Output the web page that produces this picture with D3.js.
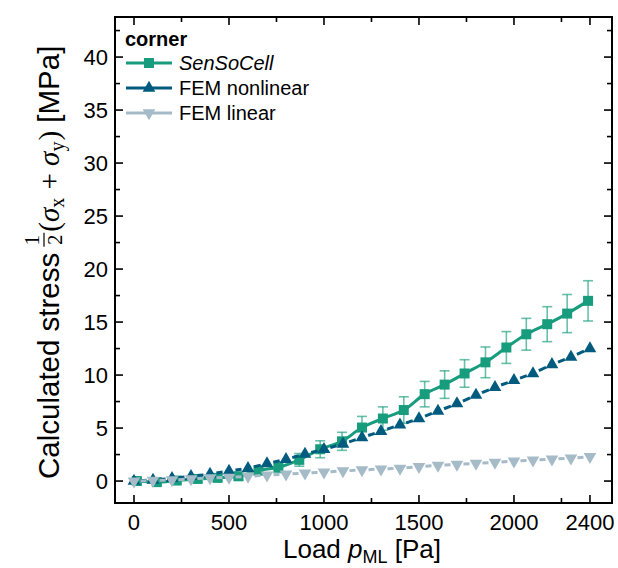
<!DOCTYPE html>
<html>
<head>
<meta charset="utf-8">
<script src="https://cdn.jsdelivr.net/npm/d3@7"></script>
<style>
	body { margin: 0; background: #fff; }
	text { font-family: "Liberation Sans", Arial, sans-serif; fill: #000; white-space: pre; }
	.math { font-family: "Liberation Serif", "DejaVu Serif", serif; }
</style>
</head>
<body>
<div id="wrapper"></div>
<script>
var width = 618;
var height = 568;

// FEM results, every 100 Pa
var loadFEM = [0, 100, 200, 300, 400, 500, 600, 700, 800, 900, 1000, 1100, 1200,
	1300, 1400, 1500, 1600, 1700, 1800, 1900, 2000, 2100, 2200, 2300, 2400];
var femNonlinear = [0, 0.1, 0.25, 0.45, 0.65, 0.95, 1.2, 1.65, 2.05, 2.55, 3.0, 3.5, 4.1,
	4.7, 5.3, 5.9, 6.6, 7.3, 8.1, 8.85, 9.5, 10.15, 11.0, 11.7, 12.5];
var femLinear = [0, 0.05, 0.1, 0.2, 0.3, 0.35, 0.45, 0.55, 0.65, 0.75, 0.85, 0.95, 1.05,
	1.13, 1.2, 1.35, 1.48, 1.57, 1.67, 1.76, 1.88, 1.98, 2.07, 2.15, 2.3];

// SenSoCell measurement
var loadSensor = [15, 120, 225, 335, 440, 550, 655, 760, 870, 980, 1095, 1200,
	1310, 1420, 1530, 1635, 1740, 1850, 1960, 2065, 2175, 2280, 2390];
var sensor = [0.0, -0.1, 0.05, 0.2, 0.3, 0.45, 1.0, 1.3, 2.0, 3.0, 3.75, 5.05,
	5.9, 6.7, 8.2, 9.1, 10.15, 11.2, 12.6, 13.85, 14.8, 15.8, 17.0];
var sensorErr = [0.25, 0.25, 0.25, 0.3, 0.3, 0.35, 0.4, 0.5, 0.6, 0.8, 0.85, 1.05,
	1.1, 1.25, 1.2, 1.3, 1.3, 1.45, 1.5, 1.5, 1.65, 1.8, 1.9];

var xMajor = [0, 500, 1000, 1500, 2000, 2400];
var xMinor = [250, 750, 1250, 1750, 2250];
var yMajor = [0, 5, 10, 15, 20, 25, 30, 35, 40];
var yMinor = [2.5, 7.5, 12.5, 17.5, 22.5, 27.5, 32.5, 37.5, 42.5];

var legendTitle = "corner";
var seriesNames = ["SenSoCell", "FEM nonlinear", "FEM linear"];
var colors = ["#179c7d", "#005b7f", "#a6bbc8"];

var plot = {left: 115, right: 612, top: 17, bottom: 503};

var x = d3.scaleLinear().domain([-100, 2516]).range([plot.left, plot.right]);
var y = d3.scaleLinear().domain([-2.07, 43.78]).range([plot.bottom, plot.top]);

var svg = d3.select("#wrapper").append("svg")
	.attr("width", width)
	.attr("height", height);

// ticks on all four sides, pointing inward
function drawTicks(){
	var g = svg.append("g").attr("class", "ticks")
		.attr("stroke", "#000").attr("stroke-width", 1.6);
	[[xMajor, 8], [xMinor, 5]].forEach(function(t){
		t[0].forEach(function(v){
			g.append("line").attr("x1", x(v)).attr("x2", x(v))
				.attr("y1", plot.bottom).attr("y2", plot.bottom - t[1]);
			g.append("line").attr("x1", x(v)).attr("x2", x(v))
				.attr("y1", plot.top).attr("y2", plot.top + t[1]);
		});
	});
	[[yMajor, 8], [yMinor, 5]].forEach(function(t){
		t[0].forEach(function(v){
			g.append("line").attr("y1", y(v)).attr("y2", y(v))
				.attr("x1", plot.left).attr("x2", plot.left + t[1]);
			g.append("line").attr("y1", y(v)).attr("y2", y(v))
				.attr("x1", plot.right).attr("x2", plot.right - t[1]);
		});
	});

	svg.append("g").selectAll("text").data(xMajor).enter().append("text")
		.attr("x", function(d){ return x(d); })
		.attr("y", 530)
		.attr("text-anchor", "middle")
		.attr("font-size", 22)
		.text(function(d){ return d; });

	svg.append("g").selectAll("text").data(yMajor).enter().append("text")
		.attr("x", plot.left - 7)
		.attr("y", function(d){ return y(d) + 8; })
		.attr("text-anchor", "end")
		.attr("font-size", 22)
		.text(function(d){ return d; });

	svg.append("rect")
		.attr("x", plot.left).attr("y", plot.top)
		.attr("width", plot.right - plot.left).attr("height", plot.bottom - plot.top)
		.attr("fill", "none").attr("stroke", "#000").attr("stroke-width", 2);
}

function marker(type){
	if (type == "square") return d3.symbol().type(d3.symbolSquare).size(100)();
	return d3.symbol().type(d3.symbolTriangle).size(70)();
}

// Origin style: line broken around the symbols
function gappedLine(xs, ys, color, gap){
	var g = svg.append("g");
	for (var i = 0; i < xs.length - 1; i++){
		var x1 = x(xs[i]), y1 = y(ys[i]), x2 = x(xs[i + 1]), y2 = y(ys[i + 1]);
		var len = Math.sqrt((x2 - x1) * (x2 - x1) + (y2 - y1) * (y2 - y1));
		if (len <= 2 * gap) continue;
		var ux = (x2 - x1) / len, uy = (y2 - y1) / len;
		g.append("line")
			.attr("x1", x1 + ux * gap).attr("y1", y1 + uy * gap)
			.attr("x2", x2 - ux * gap).attr("y2", y2 - uy * gap)
			.attr("stroke", color).attr("stroke-width", 3);
	}
	return g;
}

function drawSensor(){
	var pts = loadSensor.map(function(d, i){ return [d, sensor[i], sensorErr[i]]; });
	var eb = svg.append("g").attr("stroke", colors[0]).attr("stroke-opacity", 0.65)
		.attr("stroke-width", 1.6);
	pts.forEach(function(p){
		var cx = x(p[0]);
		eb.append("line").attr("x1", cx).attr("x2", cx)
			.attr("y1", y(p[1] - p[2])).attr("y2", y(p[1] + p[2]));
		eb.append("line").attr("x1", cx - 5).attr("x2", cx + 5)
			.attr("y1", y(p[1] - p[2])).attr("y2", y(p[1] - p[2]));
		eb.append("line").attr("x1", cx - 5).attr("x2", cx + 5)
			.attr("y1", y(p[1] + p[2])).attr("y2", y(p[1] + p[2]));
	});
	var line = d3.line()
		.x(function(d){ return x(d[0]); })
		.y(function(d){ return y(d[1]); })
		.curve(d3.curveCatmullRom.alpha(0.5));
	svg.append("path").attr("d", line(pts))
		.attr("fill", "none").attr("stroke", colors[0]).attr("stroke-width", 3);
	svg.append("g").selectAll("path").data(pts).enter().append("path")
		.attr("d", marker("square"))
		.attr("transform", function(d){ return "translate(" + x(d[0]) + "," + y(d[1]) + ")"; })
		.attr("fill", colors[0]);
}

function drawFEM(vals, color, down){
	gappedLine(loadFEM, vals, color, 6.5);
	svg.append("g").selectAll("path").data(vals).enter().append("path")
		.attr("d", marker("triangle"))
		.attr("transform", function(d, i){
			return "translate(" + x(loadFEM[i]) + "," + y(d) + ")" + (down ? " rotate(180)" : "");
		})
		.attr("fill", color);
}

function drawLegend(){
	var lg = svg.append("g").attr("transform", "translate(125,0)");
	lg.append("text").attr("x", 0).attr("y", 46)
		.attr("font-size", 20).attr("font-weight", "bold").text(legendTitle);
	seriesNames.forEach(function(name, i){
		var yy = 63 + i * 25;
		lg.append("line").attr("x1", 1).attr("x2", 47).attr("y1", yy).attr("y2", yy)
			.attr("stroke", colors[i]).attr("stroke-width", 3);
		lg.append("path")
			.attr("d", marker(i == 0 ? "square" : "triangle"))
			.attr("transform", "translate(24," + yy + ")" + (i == 2 ? " rotate(180)" : ""))
			.attr("fill", colors[i]);
		lg.append("text").attr("x", 54).attr("y", yy + 7)
			.attr("font-size", 20)
			.attr("font-style", i == 0 ? "italic" : null)
			.text(name);
	});
}

function drawTitles(){
	// x title: Load p_ML [Pa]
	var xt = svg.append("text").attr("x", 362).attr("y", 558)
		.attr("text-anchor", "middle").attr("font-size", 26);
	xt.append("tspan").text("Load ");
	xt.append("tspan").attr("font-style", "italic").text("p");
	xt.append("tspan").attr("font-size", 18).attr("dy", 5).text("ML");
	xt.append("tspan").attr("dy", -5).text(" [Pa]");

	// y title, laid out left to right then rotated
	var fs = 29.5;
	var g = svg.append("g").attr("transform", "translate(59,479) rotate(-90)");
	var u = 0;
	function put(str, opts){
		var t = g.append("text").attr("x", u).attr("y", opts.dy || 0)
			.attr("font-size", opts.size || fs)
			.attr("class", opts.math ? "math" : null)
			.attr("font-style", opts.italic ? "italic" : null)
			.text(str);
		u += t.node().getComputedTextLength() + (opts.pad || 0);
		return t;
	}
	put("Calculated stress", {pad: 6});
	// fraction 1/2
	var f0 = u;
	g.append("text").attr("class", "math").attr("font-size", 21)
		.attr("y", -20).attr("x", f0 + 6.5).attr("text-anchor", "middle").text("1");
	g.append("line").attr("x1", f0).attr("x2", f0 + 14).attr("y1", -15).attr("y2", -15)
		.attr("stroke", "#000").attr("stroke-width", 1.2);
	g.append("text").attr("class", "math").attr("font-size", 21)
		.attr("y", 3).attr("x", f0 + 7).attr("text-anchor", "middle").text("2");
	u = f0 + 15;
	put("(", {math: true, size: 29});
	put("σ", {math: true, italic: true, size: 29});
	put("x", {math: true, size: 20, dy: 5, pad: 1});
	put(" + ", {math: true, size: 29});
	put("σ", {math: true, italic: true, size: 29});
	put("y", {math: true, size: 20, dy: 5, pad: 1});
	put(")", {math: true, size: 29});
	put(" [MPa]", {});
}

drawTicks();
drawSensor();
drawFEM(femNonlinear, colors[1], false);
drawFEM(femLinear, colors[2], true);
drawLegend();
drawTitles();
</script>
</body>
</html>
